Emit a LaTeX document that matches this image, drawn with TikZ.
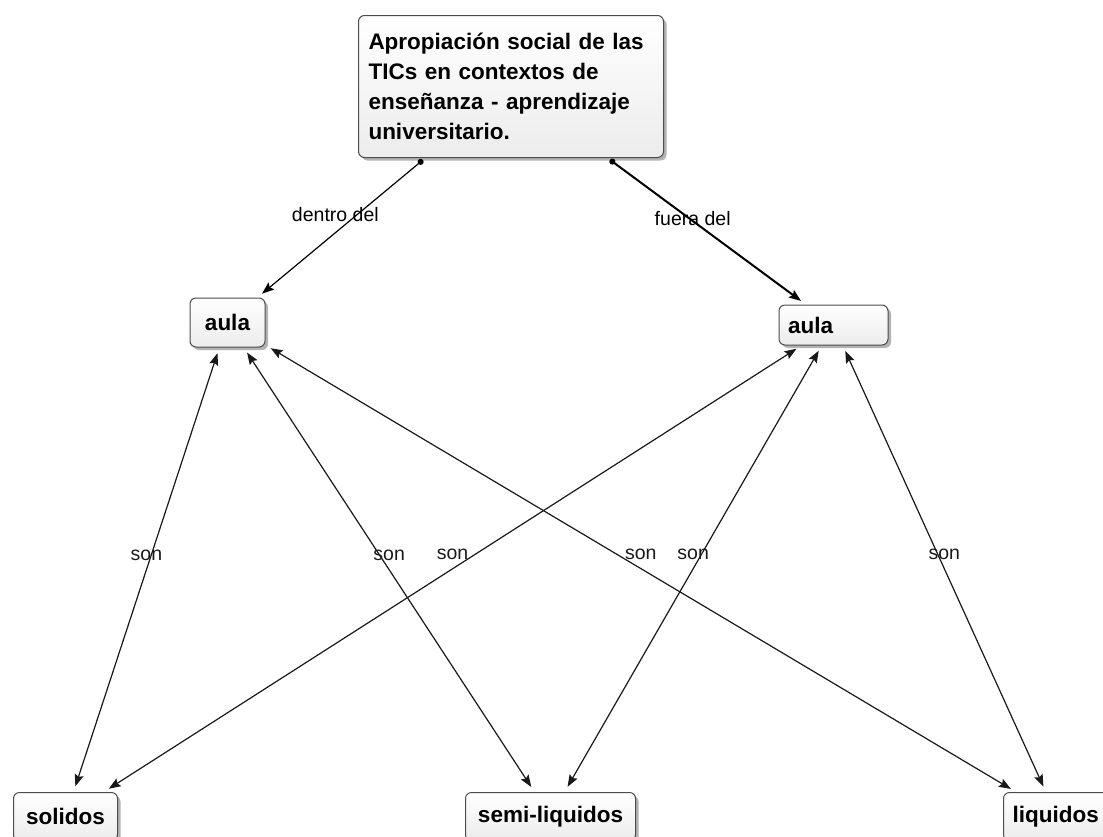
\documentclass[tikz,border=0pt]{standalone}
\usepackage{fontspec}
\setmainfont{Liberation Sans}
\usetikzlibrary{arrows.meta, shadows}
\tikzstyle{concepto} = [rectangle,
rounded corners=6pt,
draw=black!70, line width=1pt,
top color=white, bottom color=gray!15,
drop shadow={shadow xshift=3pt, shadow yshift=-3pt, fill=black!50, opacity=0.6},
inner sep=0pt,
font=\fontsize{22.5}{30}\selectfont\bfseries]
\tikzstyle{frase} = [font=\fontsize{19.5}{22}\selectfont, inner sep=0pt, yshift=14pt]
\tikzstyle{enlace} = [line width=1.2pt, black, {Circle[length=6pt]}-{Stealth[length=12pt,width=9pt,inset=2pt]}, shorten <=3pt, shorten >=6pt]
\tikzstyle{doble} = [line width=1.2pt, black!90, {Stealth[length=12pt,width=9pt,inset=2pt]}-{Stealth[length=12pt,width=9pt,inset=2pt]}, shorten <=6pt, shorten >=6pt]

\begin{document}
\begin{tikzpicture}[x=1pt, y=-1pt]

\useasboundingbox (0,0) rectangle (1103,836);
\clip (0,0) rectangle (1103,836);

% Concepto principal
\node[concepto, text width=285pt, inner xsep=10pt, minimum height=142pt, align=left, anchor=north west] (tema) at (358,15) {Apropiación social de las\\TICs en contextos de\\enseñanza - aprendizaje\\universitario.};

% Aula dentro / fuera
\node[concepto, minimum width=75pt, minimum height=49pt] (aulaDentro) at (227.5,322.5) {aula};
\node[concepto, text width=91pt, inner xsep=9pt, minimum height=40pt, align=left] (aulaFuera) at (833.5,325) {aula};

% Conceptos de abajo
\node[concepto, minimum width=104pt, minimum height=48pt, anchor=north west] (solidos) at (13,792) {solidos};
\node[concepto, minimum width=170pt, minimum height=48pt, anchor=north west] (semi) at (465,792) {semi-liquidos};
\node[concepto, text width=89pt, inner xsep=9pt, minimum height=48pt, align=left, anchor=north west] (liquidos) at (1003,792) {liquidos};

% Enlaces desde el concepto principal
\draw[enlace] (tema) -- node[frase, xshift=-6pt, yshift=-1pt] {dentro del} (aulaDentro);
\draw[enlace, line width=2pt] (tema) -- node[frase, xshift=-14pt, yshift=-1pt] {fuera del} (aulaFuera);

% Enlaces "son"
\draw[doble] (aulaDentro) -- node[frase] {son} (solidos);
\draw[doble] (aulaDentro) -- node[frase] {son} (semi);
\draw[doble] (aulaDentro) -- node[frase] {son} (liquidos);
\draw[doble] (aulaFuera) -- node[frase] {son} (solidos);
\draw[doble] (aulaFuera) -- node[frase] {son} (semi);
\draw[doble] (aulaFuera) -- node[frase] {son} (liquidos);

\end{tikzpicture}
\end{document}
